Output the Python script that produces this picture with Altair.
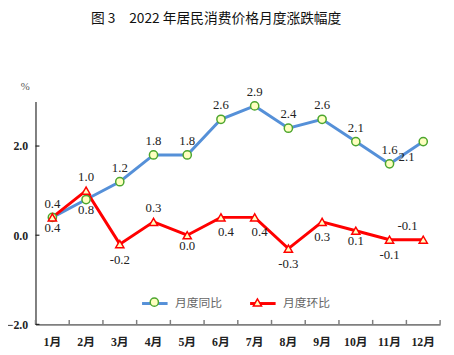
import altair as alt
import pandas as pd

# ---- data ----
months = ["1月", "2月", "3月", "4月", "5月", "6月", "7月", "8月", "9月", "10月", "11月", "12月"]
yoy = [0.4, 0.8, 1.2, 1.8, 1.8, 2.6, 2.9, 2.4, 2.6, 2.1, 1.6, 2.1]
mom = [0.4, 1.0, -0.2, 0.3, 0.0, 0.4, 0.4, -0.3, 0.3, 0.1, -0.1, -0.1]
series_names = ["月度同比", "月度环比"]
y_ticks = [-2.0, 0.0, 2.0]
title_text = "图 3　2022 年居民消费价格月度涨跌幅度"

# label placement groups (styling)
yoy_lab = ["up", "down", "up", "up", "up", "up", "up", "up", "up", "up", "up", "downleft"]
mom_lab = ["down", "up", "downfar", "up", "down", "downright", "downright", "downfar",
           "downfar", "down", "downfar", "upleft"]
lab_offsets = {
    "up": (0, -14), "down": (0, 11), "downfar": (0, 16), "downright": (5, 15),
    "downleft": (-17, 16), "upleft": (-16, -14),
}

BLUE = "#5590d8"
RED = "#ff0000"
GREEN = "#4ca62e"
FILL = "#ffffc0"
SERIF = "Liberation Serif, Noto Sans CJK SC"
CJK = "Noto Sans CJK SC"

rows = []
for m, v, l in zip(months, yoy, yoy_lab):
    rows.append({"month": m, "value": v, "series": series_names[0], "series_p": series_names[0], "lab": l})
for m, v, l in zip(months, mom, mom_lab):
    rows.append({"month": m, "value": v, "series": series_names[1], "series_p": series_names[1], "lab": l})
df = pd.DataFrame(rows)
df["text"] = df["value"].map(lambda v: f"{v:.1f}")

W, H = 412, 227

x_enc = alt.X("month:N", sort=months,
              scale=alt.Scale(paddingInner=0, paddingOuter=0),
              axis=alt.Axis(title=None, ticks=False, labelAngle=0, labelFont=SERIF,
                            labelFontSize=12, labelFontWeight="bold", labelColor="#222",
                            labelPadding=13, domainColor="#7f7f7f", domainWidth=2))
y_scale = alt.Scale(domain=[-2, 3], nice=False, zero=False)
y_enc = alt.Y("value:Q", scale=y_scale,
              axis=alt.Axis(title="%", titleAngle=0, titleX=-11, titleY=-15,
                            titleFont=SERIF, titleFontSize=11, titleFontWeight="normal",
                            titleColor="#555", titleBaseline="middle", titleAlign="center",
                            values=y_ticks, format=".1f", ticks=False, grid=False,
                            labelFont=SERIF, labelFontSize=12, labelFontWeight="bold",
                            labelColor="#222", labelPadding=8,
                            domainColor="#7f7f7f", domainWidth=2))

base = alt.Chart(df)

lines = base.mark_line(strokeWidth=3).encode(
    x=x_enc, y=y_enc,
    color=alt.Color("series:N", scale=alt.Scale(domain=series_names, range=[BLUE, RED]),
                    legend=alt.Legend(orient="none", legendX=107, legendY=191,
                                      direction="horizontal", title=None,
                                      symbolType="stroke", symbolSize=676,
                                      symbolStrokeWidth=3, labelFont=CJK,
                                      labelFontSize=12, labelColor="#666",
                                      labelOffset=6, columnPadding=21)),
    detail="series:N",
)

pt_legend = alt.Legend(orient="none", legendX=115, legendY=198, direction="horizontal",
                       title=None, symbolSize=70, symbolStrokeWidth=1.5,
                       symbolFillColor=FILL, labelExpr="''", labelFontSize=12,
                       labelOffset=6, columnPadding=85)
points = base.mark_point(filled=False, size=70, strokeWidth=1.5, opacity=1).encode(
    x=alt.X("month:N", sort=months), y=alt.Y("value:Q"),
    shape=alt.Shape("series_p:N", scale=alt.Scale(domain=series_names,
                                                   range=["circle", "triangle-up"]),
                    legend=pt_legend),
    stroke=alt.Stroke("series_p:N", scale=alt.Scale(domain=series_names, range=[GREEN, RED]),
                      legend=pt_legend),
    fill=alt.value(FILL),
)

text_layers = []
for key, (dx, dy) in lab_offsets.items():
    text_layers.append(
        base.transform_filter(alt.datum.lab == key)
        .mark_text(dx=dx, dy=dy, font=SERIF, fontSize=13, color="#222", baseline="middle")
        .encode(x=alt.X("month:N", sort=months), y=alt.Y("value:Q"), text="text:N")
    )

tick_df = pd.DataFrame({"month": months})
xticks = alt.Chart(tick_df).mark_rule(color="#7f7f7f", strokeWidth=1.5).encode(
    x=alt.X("month:N", sort=months, bandPosition=0), y=alt.datum(-2), y2=alt.datum(-1.9))
xtick_end = alt.Chart(tick_df).transform_filter(alt.datum.month == months[-1]).mark_rule(
    color="#7f7f7f", strokeWidth=1.5).encode(
    x=alt.X("month:N", sort=months, bandPosition=1), y=alt.datum(-2), y2=alt.datum(-1.9))
yt_df = pd.DataFrame({"v": y_ticks})
yticks = alt.Chart(yt_df).mark_rule(color="#222", strokeWidth=1.2).encode(
    y=alt.Y("v:Q"), x=alt.value(0), x2=alt.value(4))

chart = alt.layer(lines, points, *text_layers, xticks, xtick_end, yticks).resolve_legend(
    color="independent", shape="independent", stroke="independent"
).properties(
    width=W, height=H,
    autosize=alt.AutoSizeParams(type="none"),
    padding={"left": 28, "top": 92, "right": 6, "bottom": 27},
    title=alt.TitleParams(title_text, anchor="middle", frame="group", dx=-22, offset=56,
                          font=CJK, fontSize=14, fontWeight="normal", color="#111"),
).configure_view(stroke=None).configure_axis(labelOverlap=False)

chart.save("out.html", embed_options={"renderer": "svg", "actions": False})
